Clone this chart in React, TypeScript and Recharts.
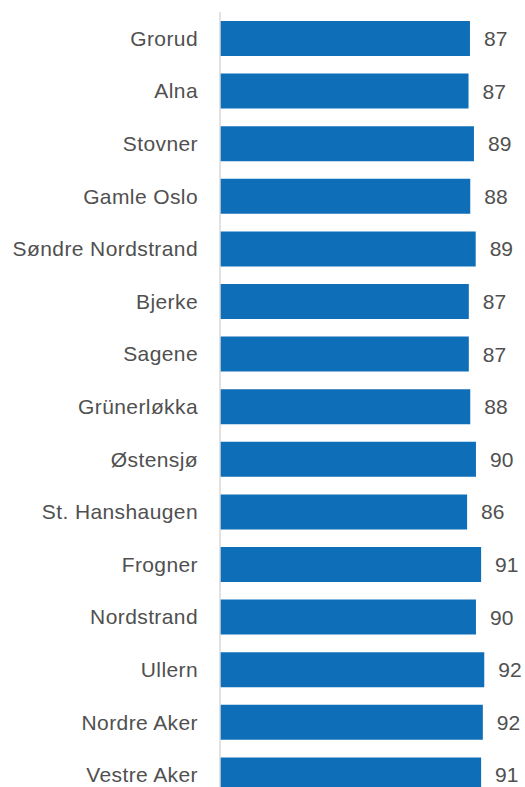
import { BarChart, Bar, XAxis, YAxis, LabelList } from 'recharts'

// bydeler, top to bottom
const districts = [
  'Grorud',
  'Alna',
  'Stovner',
  'Gamle Oslo',
  'Søndre Nordstrand',
  'Bjerke',
  'Sagene',
  'Grünerløkka',
  'Østensjø',
  'St. Hanshaugen',
  'Frogner',
  'Nordstrand',
  'Ullern',
  'Nordre Aker',
  'Vestre Aker',
]

// share in percent (labels are rounded)
const shares = [87.4, 86.9, 88.8, 87.5, 89.4, 87.0, 87.0, 87.5, 89.5, 86.4, 91.3, 89.5, 92.4, 91.9, 91.3]

const BAR_COLOR = '#0F6EB8'
const TEXT_COLOR = '#505050'
const FONT = '"Liberation Sans", Arial, sans-serif'

const data = districts.map((name, i) => ({ name, value: shares[i] }))

export default function App() {
  return (
    // chart runs past the bottom of the window; fixed box so no scrollbar shows up
    <div
      style={{
        position: 'fixed',
        top: 0,
        left: 0,
        width: 525,
        height: 787,
        overflow: 'hidden',
        background: '#fff',
        fontFamily: FONT,
      }}
    >
      <BarChart
        width={525}
        height={801}
        data={data}
        layout="vertical"
        margin={{ top: 12, right: 19, bottom: 0, left: 8 }}
      >
        <XAxis type="number" domain={[0, 100]} hide />
        <YAxis
          type="category"
          dataKey="name"
          width={212}
          axisLine={{ stroke: '#d9d9d9', strokeWidth: 1.5 }}
          tickLine={false}
          tickSize={0}
          tickMargin={22}
          interval={0}
          tick={{ fill: TEXT_COLOR, fontSize: 21, fontFamily: FONT, letterSpacing: 0.4 }}
        />
        <Bar dataKey="value" fill={BAR_COLOR} barSize={35} isAnimationActive={false}>
          <LabelList
            dataKey="value"
            position="right"
            offset={14}
            formatter={(v: number) => Math.round(v)}
            style={{ fill: TEXT_COLOR, fontSize: 21, fontFamily: FONT }}
          />
        </Bar>
      </BarChart>
    </div>
  )
}
